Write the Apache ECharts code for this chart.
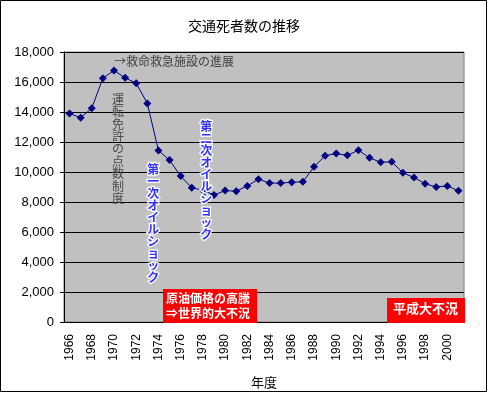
<!DOCTYPE html>
<html>
<head>
<meta charset="utf-8">
<script src="https://cdn.jsdelivr.net/npm/echarts@6/dist/echarts.min.js"></script>
<style>
html,body{margin:0;padding:0;background:#fff;}
#chart{width:488px;height:394px;}
</style>
</head>
<body>
<div id="chart"></div>
<script>
const years = ['1966','1967','1968','1969','1970','1971','1972','1973','1974','1975','1976','1977','1978','1979','1980','1981','1982','1983','1984','1985','1986','1987','1988','1989','1990','1991','1992','1993','1994','1995','1996','1997','1998','1999','2000','2001'];
const deaths = [13904,13618,14256,16257,16765,16278,15918,14574,11432,10792,9734,8945,8783,8466,8760,8719,9073,9520,9262,9261,9317,9347,10344,11086,11227,11109,11452,10942,10649,10679,9942,9640,9211,9006,9066,8747];
const titleText = '交通死者数の推移';
const xName = '年度';
const noteRescue = '→救命救急施設の進展';
const noteLicense = '運転免許の点数制度';
const noteOil1 = '第一次オイルショック';
const noteOil2 = '第二次オイルショック';
const noteCrude = '原油価格の高騰\n⇒世界的大不況';
const noteHeisei = '平成大不況';

const JP = '"Noto Sans CJK JP", sans-serif';
const vert = s => s.split('').join('\n');

const chart = echarts.init(document.getElementById('chart'));
chart.setOption({
  backgroundColor: '#ffffff',
  animation: false,
  title: {
    text: titleText, left: 'center', top: 14,
    textStyle: {fontFamily: JP, fontSize: 14, fontWeight: 'normal', color: '#000'}
  },
  grid: {left: 64, right: 24, top: 52, bottom: 70, show: true, backgroundColor: '#c0c0c0', borderColor: '#808080', borderWidth: 1},
  xAxis: {
    type: 'category', data: years, boundaryGap: true,
    name: xName, nameLocation: 'middle', nameGap: 54,
    nameTextStyle: {fontFamily: JP, fontSize: 13, color: '#000'},
    axisLine: {lineStyle: {color: '#000', width: 1}},
    axisTick: {inside: true, length: 4, interval: 0, lineStyle: {color: '#000'}},
    axisLabel: {rotate: 90, interval: 1, margin: 12, fontFamily: '"Liberation Sans", Arial, sans-serif', fontSize: 12, color: '#000'},
    splitLine: {show: false}
  },
  yAxis: {
    type: 'value', min: 0, max: 18000, interval: 2000,
    axisLine: {show: true, lineStyle: {color: '#000', width: 1}},
    axisTick: {show: true, inside: false, length: 4, lineStyle: {color: '#000'}},
    axisLabel: {margin: 10, fontFamily: '"Liberation Sans", Arial, sans-serif', fontSize: 13, color: '#000',
      formatter: v => v.toLocaleString('en-US')},
    splitLine: {show: true, lineStyle: {color: '#000', width: 1}}
  },
  series: [{
    type: 'line', data: deaths,
    symbol: 'diamond', symbolSize: 8, showAllSymbol: true,
    lineStyle: {color: '#000080', width: 1},
    itemStyle: {color: '#000080'},
    z: 3
  }],
  graphic: [
    {type: 'rect', shape: {x: 0.5, y: 0.5, width: 486, height: 391}, style: {fill: 'none', stroke: '#000', lineWidth: 1}, z: 100, silent: true},
    {type: 'text', left: 114, top: 55, z: 50, style: {text: noteRescue, fontFamily: JP, fontSize: 12, fill: '#404040'}},
    {type: 'text', left: 112, top: 93, z: 50, style: {text: vert(noteLicense), fontFamily: JP, fontSize: 12, lineHeight: 12.4, fill: '#4a4a4a'}},
    {type: 'text', left: 146, top: 162, z: 50, style: {text: vert(noteOil1), fontFamily: JP, fontSize: 12, fontWeight: 'bold', lineHeight: 12, fill: '#3333ff', stroke: '#ffffff', lineWidth: 2.5}},
    {type: 'text', left: 199, top: 119, z: 50, style: {text: vert(noteOil2), fontFamily: JP, fontSize: 12, fontWeight: 'bold', lineHeight: 12, fill: '#3333ff', stroke: '#ffffff', lineWidth: 2.5}},
    {type: 'rect', shape: {x: 163, y: 289, width: 94, height: 34}, style: {fill: '#ff0000'}, z: 50},
    {type: 'text', left: 166, top: 291, z: 51, style: {text: noteCrude, fontFamily: JP, fontSize: 12, fontWeight: 'bold', lineHeight: 15, fill: '#ffffff'}},
    {type: 'rect', shape: {x: 387, y: 298, width: 78, height: 25}, style: {fill: '#ff0000'}, z: 50},
    {type: 'text', left: 393, top: 302, z: 51, style: {text: noteHeisei, fontFamily: JP, fontSize: 13, fontWeight: 'bold', fill: '#ffffff'}}
  ]
});
</script>
</body>
</html>
